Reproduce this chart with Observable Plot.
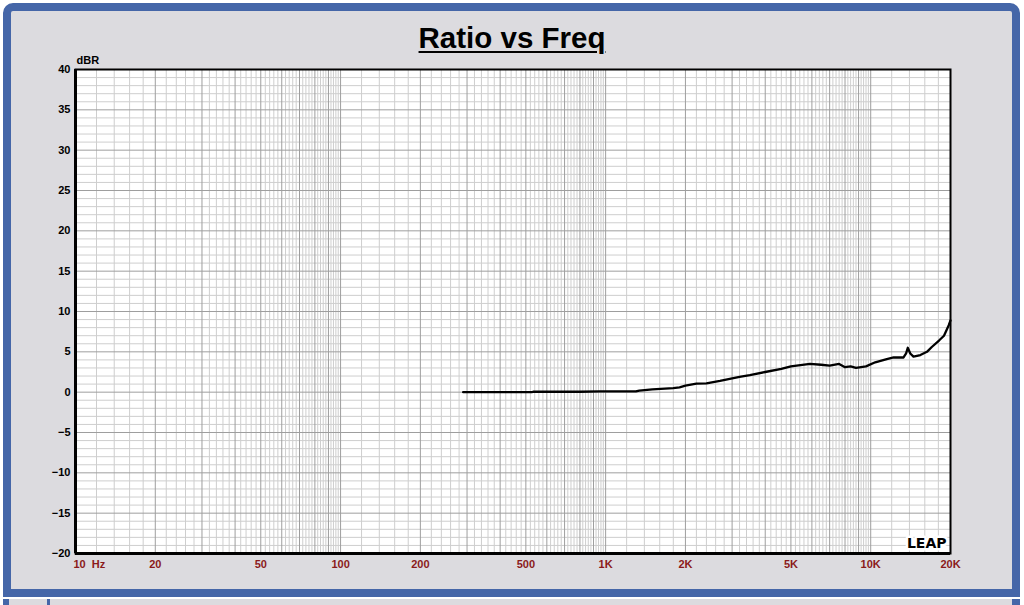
<!DOCTYPE html>
<html>
<head>
<meta charset="utf-8">
<script src="https://cdn.jsdelivr.net/npm/d3@7"></script>
<script src="https://cdn.jsdelivr.net/npm/@observablehq/plot@0.6"></script>
<style>
  html, body { margin: 0; padding: 0; background: #ffffff; }
  #page { position: relative; width: 1024px; height: 605px; overflow: hidden; font-family: "Liberation Sans", Arial, sans-serif; }
  #panel { position: absolute; left: 3px; top: 3px; width: 1017px; height: 594px; box-sizing: border-box;
           background: #dcdbdf; border: 8px solid #4566a8; border-radius: 10px 10px 0 0; }
  #panel2 { position: absolute; left: 3px; top: 599px; width: 1017px; height: 12px; box-sizing: border-box;
            background: #dcdbdf; border-left: 6px solid #4566a8; border-right: 8px solid #4566a8; }
  #panel2 .bar { position: absolute; left: 38px; top: 0; width: 3px; height: 12px; background: #4566a8; }
  #title { position: absolute; left: 0; top: 23px; width: 1024px; text-align: center; font-size: 29.5px; line-height: 1;
           font-weight: bold; color: #000; text-decoration: underline; text-decoration-thickness: 2px; text-underline-offset: 3px; }
  #chart { position: absolute; left: 0; top: 0; }
</style>
</head>
<body>
<div id="page">
  <div id="panel"></div>
  <div id="panel2"><div class="bar"></div></div>
  <div id="title">Ratio vs Freq</div>
  <div id="chart"></div>
</div>
<script>
// Measured curve (frequency in Hz, ratio in dBR)
const freq = [290, 400, 527, 533, 600, 800, 950, 1000, 1300, 1340, 1500, 1800, 1900, 2000, 2200, 2400, 2700, 3200, 3500, 4000, 4600, 5000, 5900, 6500, 7000, 7600, 8000, 8400, 8800, 9200, 9600, 10400, 11500, 12200, 13300, 13600, 13800, 14100, 14500, 15400, 16300, 17000, 18100, 18900, 19700, 20000];
const dbr  = [0.0, 0.0, 0.0, 0.05, 0.05, 0.05, 0.1, 0.1, 0.1, 0.2, 0.35, 0.5, 0.6, 0.8, 1.05, 1.1, 1.4, 1.9, 2.1, 2.5, 2.9, 3.2, 3.5, 3.4, 3.3, 3.5, 3.1, 3.2, 3.0, 3.1, 3.2, 3.7, 4.1, 4.3, 4.3, 4.8, 5.5, 4.8, 4.4, 4.6, 5.0, 5.6, 6.4, 7.0, 8.3, 8.9];

// Axis ticks and labels
const xTickValues = [10, 20, 50, 100, 200, 500, 1000, 2000, 5000, 10000, 20000];
const xTickLabels = ["10\u00a0\u00a0Hz", "20", "50", "100", "200", "500", "1K", "2K", "5K", "10K", "20K"];
const yTickValues = [-20, -15, -10, -5, 0, 5, 10, 15, 20, 25, 30, 35, 40];
const xDomain = [10, 20000];
const yDomain = [-20, 40];

const data = freq.map((f, i) => ({f, db: dbr[i]}));

// Grid lines: majors at 1..9 x decade, minors at even tenths in between
const decades = [10, 100, 1000, 10000];
const majorX = [], minorX = [];
for (const d of decades) {
  for (let k = 10; k < 100; k += 2) {
    const v = d * k / 10;
    if (v > 20000) continue;
    if (k % 10 === 0) majorX.push(v); else minorX.push(v);
  }
}
const majorY = d3.range(-20, 41, 5);
const minorY = d3.range(-20, 41, 1).filter(v => v % 5 !== 0);

const labelData = xTickValues.map((v, i) => ({v, label: xTickLabels[i]}));

const chart = Plot.plot({
  width: 1024,
  height: 605,
  marginLeft: 75,
  marginRight: 74,
  marginTop: 69,
  marginBottom: 52,
  style: {background: "transparent", fontFamily: "'Liberation Sans', Arial, sans-serif", overflow: "visible"},
  x: {type: "log", domain: xDomain, axis: null},
  y: {domain: yDomain, axis: null},
  marks: [
    Plot.frame({fill: "white", stroke: "none"}),
    Plot.ruleX(minorX, {stroke: "#cecece", strokeWidth: 1}),
    Plot.ruleY(minorY, {stroke: "#cecece", strokeWidth: 1}),
    Plot.ruleX(majorX, {stroke: "#9e9e9e", strokeWidth: 1}),
    Plot.ruleY(majorY, {stroke: "#9e9e9e", strokeWidth: 1}),
    Plot.text(["LEAP"], {frameAnchor: "bottom-right", dx: -4, dy: -6, lineAnchor: "bottom", textAnchor: "end",
      fontSize: 14, fontWeight: 900, fill: "black", stroke: "white", strokeWidth: 5,
      fontFamily: "'DejaVu Sans', sans-serif", letterSpacing: 4}),
    Plot.line(data, {x: "f", y: "db", stroke: "black", strokeWidth: 2.3, strokeLinejoin: "round"}),
    Plot.frame({stroke: "black", strokeWidth: 2}),
    Plot.ruleX([xDomain[0]], {stroke: "black", strokeWidth: 3}),
    Plot.ruleY([yDomain[0]], {stroke: "black", strokeWidth: 3}),
    Plot.axisY({ticks: yTickValues, tickSize: 0, tickPadding: 5, fontWeight: "bold", fontSize: 11, label: null, fill: "black"}),
    Plot.text(["dBR"], {frameAnchor: "top-left", textAnchor: "start", lineAnchor: "bottom", dx: 1, dy: -6,
      fontWeight: "bold", fontSize: 11, fill: "black"}),
    Plot.text(labelData.slice(0, 1), {x: "v", text: "label", frameAnchor: "bottom", dy: 14, dx: -2, textAnchor: "start",
      fontWeight: "bold", fontSize: 11, fill: "#8b1a1a"}),
    Plot.text(labelData.slice(1), {x: "v", text: "label", frameAnchor: "bottom", dy: 14, textAnchor: "middle",
      fontWeight: "bold", fontSize: 11, fill: "#8b1a1a"})
  ]
});
document.getElementById("chart").appendChild(chart);
</script>
</body>
</html>
